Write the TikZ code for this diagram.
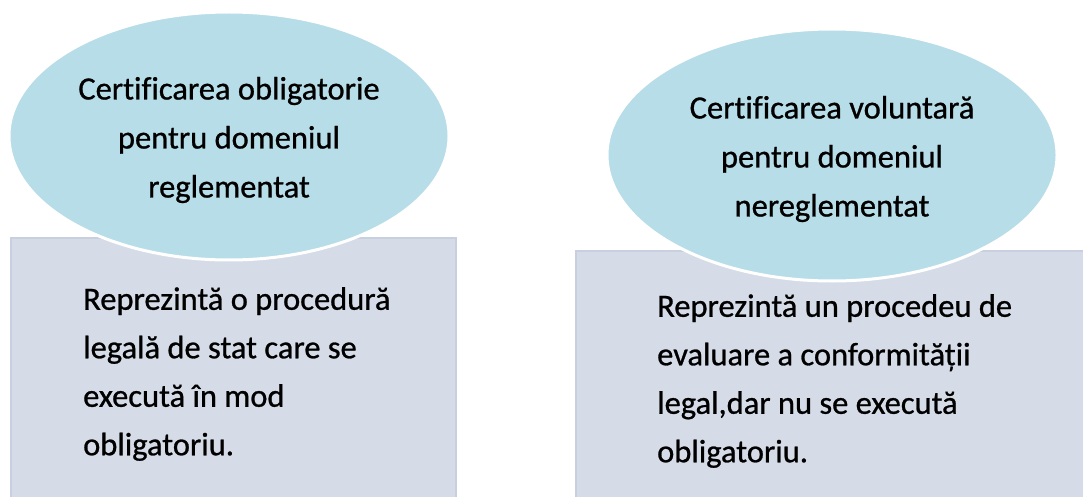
\documentclass[tikz,border=0pt]{standalone}
\usepackage{fontspec}
\setmainfont{Carlito}[FakeBold=0.8, Ligatures=NoCommon]
\usetikzlibrary{shapes.geometric}
\definecolor{ellfill}{HTML}{B7DDE8}
\definecolor{boxfill}{HTML}{D5DBE7}
\definecolor{boxline}{HTML}{C8CFDE}
\tikzset{
  boxshape/.style={draw=boxline, line width=1.5pt, fill=boxfill, rectangle, anchor=north west, inner sep=0pt},
  ellshape/.style={draw=white, line width=3pt, fill=ellfill, ellipse, inner sep=0pt, align=center,
    font=\fontsize{32.5}{49}\selectfont},
  boxtext/.style={anchor=north west, align=left, inner sep=0pt, font=\fontsize{32.5}{48.5}\selectfont}
}
\begin{document}
\begin{tikzpicture}[x=1pt,y=-1pt]
\useasboundingbox (0,0) rectangle (1083,497);
\node[boxshape, minimum width=445pt, minimum height=265pt] (b1) at (10,237) {};
\node[boxshape, minimum width=510pt, minimum height=250pt] (b2) at (575,250) {};
\node[ellshape, minimum width=440pt, minimum height=248pt] (e1) at (229,136) {};
\node[ellshape, minimum width=450pt, minimum height=252pt] (e2) at (832,155) {};
\node[ellshape, draw=none, fill=none] (l1) at (229,140)
  {Certificarea obligatorie\\pentru domeniul\\reglementat};
\node[ellshape, draw=none, fill=none] (l2) at (832,159)
  {Certificarea voluntară\\pentru domeniul\\nereglementat};
\node[boxtext] (t1) at (83,287)
  {Reprezintă o procedură\\legală de stat care se\\execută în mod\\obligatoriu.};
\node[boxtext] (t2) at (657,294)
  {Reprezintă un procedeu de\\evaluare a conformității\\legal,dar nu se execută\\obligatoriu.};
\end{tikzpicture}
\end{document}
